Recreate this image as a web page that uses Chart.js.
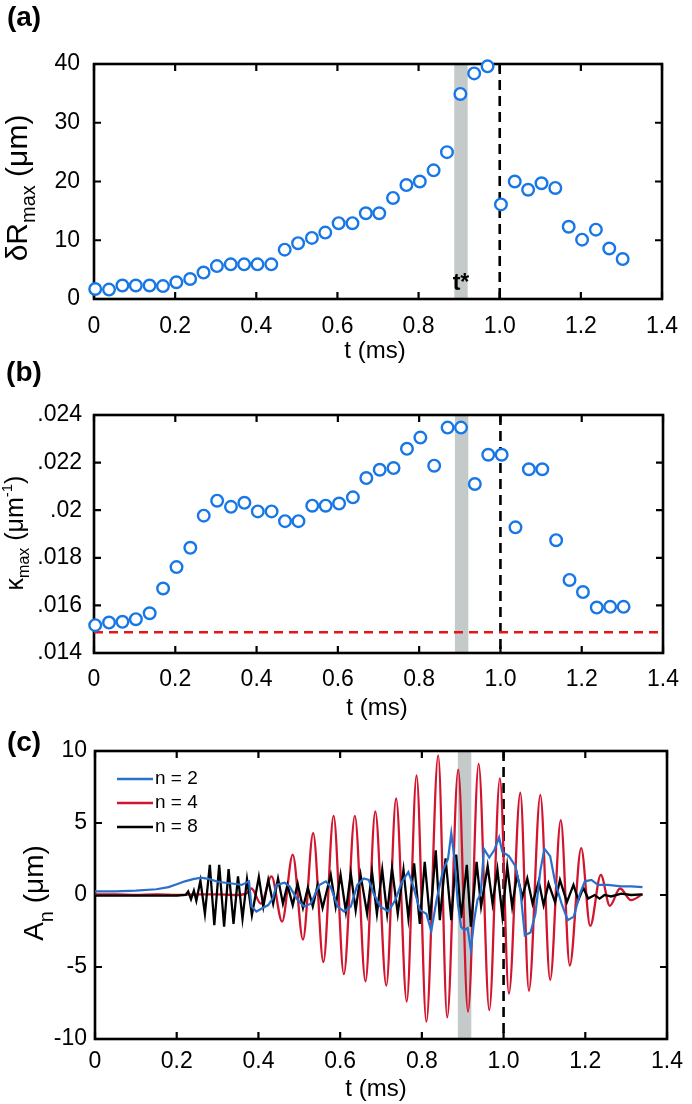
<!DOCTYPE html>
<html>
<head>
<meta charset="utf-8">
<script src="https://cdn.jsdelivr.net/npm/chart.js@4.4.0/dist/chart.umd.min.js"></script>
<style>
  html, body { margin: 0; padding: 0; background: #fff; }
  #wrap { position: relative; width: 692px; height: 1104px; }
  #wrap canvas { position: absolute; left: 0; top: 0; }
</style>
</head>
<body>
<div id="wrap">
  <canvas id="chartA" width="692" height="1104"></canvas>
  <canvas id="chartB" width="692" height="1104"></canvas>
  <canvas id="chartC" width="692" height="1104"></canvas>
</div>
<script>
// ---- data ----
const frameTimes = [0.003, 0.037, 0.070, 0.103, 0.137, 0.170, 0.203, 0.237, 0.270, 0.303,
  0.337, 0.370, 0.403, 0.437, 0.470, 0.503, 0.537, 0.570, 0.603, 0.637,
  0.670, 0.703, 0.737, 0.770, 0.803, 0.837, 0.870, 0.903, 0.937, 0.970,
  1.003, 1.037, 1.070, 1.103, 1.137, 1.170, 1.203, 1.237, 1.270, 1.303];

// (a) deltaR max (um)
const deltaR = [1.7, 1.6, 2.3, 2.3, 2.3, 2.2, 2.85, 3.4, 4.5, 5.6,
  5.9, 5.9, 5.9, 5.9, 8.4, 9.5, 10.4, 11.3, 12.9, 12.9,
  14.6, 14.6, 17.2, 19.4, 20.0, 21.9, 25.0, 34.9, 38.4, 39.6,
  16.1, 20.0, 18.6, 19.7, 18.9, 12.3, 10.1, 11.8, 8.6, 6.8];

// (b) kappa max (1/um)
const kappa = [0.01517, 0.01528, 0.01531, 0.01542, 0.01567, 0.01671, 0.01761, 0.01842, 0.01977, 0.02040,
  0.02014, 0.02031, 0.01995, 0.01995, 0.01954, 0.01954, 0.02019, 0.02019, 0.02028, 0.02054,
  0.02135, 0.02170, 0.02177, 0.02258, 0.02305, 0.02187, 0.02347, 0.02347, 0.02110, 0.02233,
  0.02233, 0.01928, 0.02172, 0.02172, 0.01874, 0.01707, 0.01656, 0.01591, 0.01594, 0.01594];
const kappaRef = 0.01487;

// (c) mode amplitudes A_n (um)
const seriesLabels = ['n = 2', 'n = 4', 'n = 8'];

const n2T = [0, 0.05, 0.1, 0.15, 0.18, 0.2, 0.22, 0.24, 0.26, 0.28,
  0.303, 0.335, 0.359, 0.377, 0.383, 0.395, 0.407, 0.424, 0.436, 0.444,
  0.464, 0.476, 0.496, 0.512, 0.528, 0.549, 0.565, 0.577, 0.594, 0.610,
  0.626, 0.642, 0.658, 0.670, 0.682, 0.698, 0.718, 0.735, 0.751, 0.767,
  0.779, 0.795, 0.811, 0.823, 0.836, 0.852, 0.864, 0.872, 0.880, 0.888,
  0.896, 0.904, 0.912, 0.920, 0.928, 0.936, 0.944, 0.952, 0.965, 0.977,
  0.989, 0.997, 1.013, 1.029, 1.041, 1.052, 1.066, 1.078, 1.090, 1.100,
  1.114, 1.126, 1.142, 1.157, 1.172, 1.187, 1.199, 1.215, 1.231, 1.255,
  1.288, 1.312, 1.340];
const n2V = [0.25, 0.25, 0.3, 0.4, 0.55, 0.75, 0.95, 1.1, 1.2, 1.1,
  0.9, 0.8, 0.7, 0.95, -0.8, -1.15, -0.95, -0.7, -0.2, 0.7,
  0.85, 0.6, -0.35, -0.8, -0.6, 0.7, 0.95, 0.55, -0.8, -1.15,
  -0.8, 0.7, 1.15, 1.05, 0.1, -0.8, -1.15, -0.35, 0.9, 1.6,
  0.6, -1.05, -1.3, -2.5, -0.35, 1.75, 2.5, 4.3, 2.5, -0.6,
  -2.2, -2.45, -2.3, -3.8, -1.75, -0.35, 0.1, 3.2, 2.6, 3.1,
  4.0, 3.0, 2.7, 2.0, 0.35, -2.8, -2.6, -1.3, 1.7, 3.2,
  2.7, 0.9, -0.6, -1.75, -1.5, 0.1, 0.95, 1.05, 0.7, 0.7,
  0.6, 0.6, 0.55];

const n4T = [0, 0.05, 0.1, 0.15, 0.2, 0.25, 0.3, 0.34, 0.37, 0.383,
  0.406, 0.432, 0.458, 0.484, 0.509, 0.534, 0.559, 0.584, 0.609, 0.636,
  0.662, 0.686, 0.713, 0.737, 0.763, 0.787, 0.811, 0.840, 0.862, 0.889,
  0.913, 0.939, 0.965, 0.991, 1.013, 1.041, 1.062, 1.090, 1.114, 1.140,
  1.162, 1.190, 1.212, 1.238, 1.260, 1.285, 1.312, 1.340];
const n4V = [0.05, 0.05, 0.0, 0.05, 0.0, 0.05, 0.05, 0.0, 0.1, 0.45,
  -0.6, 1.3, -1.85, 2.8, -3.1, 4.3, -4.65, 5.5, -5.5, 5.5,
  -6.0, 5.8, -6.3, 6.7, -7.4, 8.3, -8.8, 9.7, -8.5, 8.7,
  -8.1, 9.1, -8.0, 8.1, -6.85, 7.1, -6.65, 6.95, -5.9, 5.2,
  -4.9, 3.25, -2.15, 1.4, -0.75, 0.45, -0.35, 0.05];

const n8T = [0, 0.1, 0.2, 0.222, 0.228, 0.235, 0.242, 0.248, 0.258, 0.269,
  0.281, 0.292, 0.304, 0.316, 0.327, 0.339, 0.350, 0.361, 0.372, 0.384,
  0.401, 0.412, 0.424, 0.436, 0.448, 0.460, 0.471, 0.484, 0.496, 0.509,
  0.521, 0.533, 0.545, 0.557, 0.577, 0.589, 0.601, 0.614, 0.626, 0.638,
  0.650, 0.666, 0.678, 0.690, 0.703, 0.715, 0.727, 0.741, 0.755, 0.767,
  0.781, 0.795, 0.807, 0.820, 0.834, 0.844, 0.858, 0.872, 0.884, 0.896,
  0.910, 0.920, 0.934, 0.945, 0.961, 0.973, 0.985, 0.997, 1.009, 1.021,
  1.033, 1.046, 1.058, 1.071, 1.086, 1.098, 1.110, 1.126, 1.138, 1.155,
  1.171, 1.183, 1.195, 1.207, 1.223, 1.235, 1.247, 1.263, 1.288, 1.312,
  1.340];
const n8V = [-0.05, -0.05, -0.05, 0.0, 0.25, -0.3, 0.3, -0.4, 1.0, -1.3,
  2.1, -2.1, 2.1, -2.2, 1.8, -2.0, 1.3, -1.65, 1.1, -1.4,
  1.25, -0.8, 1.05, -0.6, 1.15, -0.6, 0.7, -0.7, 0.8, -0.9,
  0.5, -0.8, 0.7, -0.9, 1.4, -0.8, 1.4, -1.15, 1.5, -1.05,
  1.4, -1.3, 1.6, -1.3, 1.75, -1.3, 1.85, -1.3, 1.75, -1.6,
  2.2, -2.0, 2.3, -1.75, 3.1, -1.75, 2.55, -1.75, 2.8, -1.6,
  2.1, -2.2, 2.3, -0.8, 2.0, -0.6, 1.75, -1.45, 2.0, -0.8,
  1.4, -0.15, 1.15, -0.6, 0.95, -0.7, 0.8, -0.5, 1.05, -0.5,
  0.7, -0.35, 0.5, -0.25, 0.0, -0.25, 0.0, -0.1, 0.1, 0.0,
  0.05];

// ticks
const xTickValues = [0, 0.2, 0.4, 0.6, 0.8, 1.0, 1.2, 1.4];
const xTickLabels = ['0', '0.2', '0.4', '0.6', '0.8', '1.0', '1.2', '1.4'];
const yTicksA = [0, 10, 20, 30, 40];
const yLabelsA = ['0', '10', '20', '30', '40'];
const yTicksB = [0.014, 0.016, 0.018, 0.02, 0.022, 0.024];
const yLabelsB = ['.014', '.016', '.018', '.02', '.022', '.024'];
const yTicksC = [-10, -5, 0, 5, 10];
const yLabelsC = ['-10', '-5', '0', '5', '10'];

const bandRange = [0.888, 0.921];   // grey band around t*
const markTime = 1.0;               // dashed line

// ---- styling ----
const FONT = "'Liberation Sans', Arial, Helvetica, sans-serif";
const MARKER_BLUE = '#1877e6';
const LINE_BLUE = '#2a6fcb';
const LINE_RED = '#d2152e';
const BAND = '#c4caca';
const X_AXIS_H = 50;   // room under each plot for the tick labels
Chart.defaults.font.family = FONT;
Chart.defaults.color = '#000';

const pts = (xs, ys) => xs.map((x, i) => ({ x: x, y: ys[i] }));

function drawRuns(ctx, runs, x, y, rotate) {
  ctx.save();
  ctx.translate(x, y);
  if (rotate) ctx.rotate(-Math.PI / 2);
  let total = 0;
  runs.forEach(r => {
    ctx.font = (r.bold ? 'bold ' : '') + r.s + 'px ' + FONT;
    r.w = ctx.measureText(r.t).width;
    total += r.w;
  });
  let cx = -total / 2;
  ctx.fillStyle = '#000';
  ctx.textAlign = 'left';
  ctx.textBaseline = 'alphabetic';
  runs.forEach(r => {
    ctx.font = (r.bold ? 'bold ' : '') + r.s + 'px ' + FONT;
    ctx.fillText(r.t, cx, r.dy || 0);
    cx += r.w;
  });
  ctx.restore();
}

// band, dashed line, frame and inward ticks go under the marks; text on top
function makeDecor(cfg) {
  return {
    id: 'decor',
    beforeDatasetsDraw(chart) {
      const ctx = chart.ctx, a = chart.chartArea;
      const x = chart.scales.x, y = chart.scales.y;
      ctx.save();
      const b0 = x.getPixelForValue(bandRange[0]);
      const b1 = x.getPixelForValue(bandRange[1]);
      ctx.fillStyle = BAND;
      ctx.fillRect(b0, a.top, b1 - b0, a.bottom - a.top);

      const xd = x.getPixelForValue(markTime);
      ctx.strokeStyle = '#000';
      ctx.lineWidth = 2.6;
      ctx.setLineDash([10, 6]);
      ctx.beginPath();
      ctx.moveTo(xd, a.top);
      ctx.lineTo(xd, a.bottom);
      ctx.stroke();
      ctx.setLineDash([]);

      ctx.lineWidth = 2.6;
      ctx.strokeRect(a.left, a.top, a.right - a.left, a.bottom - a.top);
      ctx.lineWidth = 2.2;
      ctx.beginPath();
      xTickValues.forEach(v => {
        const px = x.getPixelForValue(v);
        ctx.moveTo(px, a.bottom); ctx.lineTo(px, a.bottom - 7);
        ctx.moveTo(px, a.top); ctx.lineTo(px, a.top + 7);
      });
      cfg.yTicks.forEach(v => {
        const py = y.getPixelForValue(v);
        ctx.moveTo(a.left, py); ctx.lineTo(a.left + 7, py);
        ctx.moveTo(a.right, py); ctx.lineTo(a.right - 7, py);
      });
      ctx.stroke();
      ctx.restore();
    },
    afterDraw(chart) {
      const ctx = chart.ctx;
      drawRuns(ctx, [{ t: cfg.label, s: 28, bold: true }], cfg.labelPos[0], cfg.labelPos[1], false);
      drawRuns(ctx, [{ t: 't (ms)', s: 24 }], cfg.xTitlePos[0], cfg.xTitlePos[1], false);
      drawRuns(ctx, cfg.yTitle, cfg.yTitlePos[0], cfg.yTitlePos[1], true);
      if (cfg.after) cfg.after(chart, ctx);
    }
  };
}

function makeScales(box, yMin, yMax, yTicks, yLabels, xPad, yPad) {
  return {
    x: {
      type: 'linear', min: 0, max: 1.4,
      grid: { display: false, drawTicks: false },
      border: { display: false },
      ticks: {
        font: { size: 23 }, color: '#000', padding: xPad,
        maxRotation: 0, autoSkip: false,
        callback: (v, i) => xTickLabels[i]
      },
      afterBuildTicks: s => { s.ticks = xTickValues.map(v => ({ value: v })); },
      afterFit: s => { s.height = X_AXIS_H; }
    },
    y: {
      type: 'linear', min: yMin, max: yMax,
      grid: { display: false, drawTicks: false },
      border: { display: false },
      ticks: {
        font: { size: 23 }, color: '#000', padding: yPad,
        autoSkip: false,
        callback: (v, i) => yLabels[i]
      },
      afterBuildTicks: s => { s.ticks = yTicks.map(v => ({ value: v })); },
      afterFit: s => { s.width = box.left; }
    }
  };
}

function baseOptions(box) {
  return {
    responsive: false,
    animation: false,
    devicePixelRatio: 1,
    events: [],
    layout: { padding: { left: 0, right: 692 - box.right, top: box.top, bottom: 1104 - box.bottom - X_AXIS_H } },
    plugins: { legend: { display: false }, tooltip: { enabled: false }, title: { display: false } }
  };
}

// ---- (a) ----
const boxA = { left: 94, right: 672, top: 64, bottom: 299 };
new Chart(document.getElementById('chartA'), {
  type: 'scatter',
  data: {
    datasets: [{
      data: pts(frameTimes, deltaR),
      pointRadius: 5.8, pointBorderWidth: 2.4,
      pointBorderColor: MARKER_BLUE, pointBackgroundColor: '#fff',
      clip: false
    }]
  },
  options: Object.assign(baseOptions(boxA), {
    scales: makeScales(boxA, 0, 40, yTicksA, yLabelsA, 14, 14)
  }),
  plugins: [makeDecor({
    label: '(a)', labelPos: [24, 26], xTitlePos: [375, 358],
    yTitle: [{ t: 'δR', s: 30 }, { t: 'max', s: 20, dy: 8 }, { t: ' (μm)', s: 30 }],
    yTitlePos: [27, 188], yTicks: yTicksA,
    after: (chart, ctx) => {
      const x = chart.scales.x;
      const cx = (x.getPixelForValue(bandRange[0]) + x.getPixelForValue(bandRange[1])) / 2;
      drawRuns(ctx, [{ t: 't*', s: 23, bold: true }], cx, 290, false);
    }
  })]
});

// ---- (b) ----
const boxB = { left: 94, right: 672, top: 415, bottom: 653 };
new Chart(document.getElementById('chartB'), {
  type: 'scatter',
  data: {
    datasets: [{
      data: pts(frameTimes, kappa),
      pointRadius: 5.8, pointBorderWidth: 2.4,
      pointBorderColor: MARKER_BLUE, pointBackgroundColor: '#fff',
      clip: false
    }, {
      type: 'line',
      data: [{ x: 0, y: kappaRef }, { x: 1.4, y: kappaRef }],
      borderColor: '#e3171b', borderWidth: 2.4, borderDash: [9, 6],
      pointRadius: 0, showLine: true
    }]
  },
  options: Object.assign(baseOptions(boxB), {
    scales: makeScales(boxB, 0.014, 0.024, yTicksB, yLabelsB, 13, 12)
  }),
  plugins: [makeDecor({
    label: '(b)', labelPos: [24, 381], xTitlePos: [377, 715],
    yTitle: [{ t: 'κ', s: 25 }, { t: 'max', s: 16, dy: 6 }, { t: ' (μm', s: 25 },
             { t: '-1', s: 15, dy: -11 }, { t: ')', s: 25 }],
    yTitlePos: [23, 533], yTicks: yTicksB
  })]
});

// ---- (c) ----
const boxC = { left: 95, right: 673, top: 751, bottom: 1039 };
const lineColors = [LINE_BLUE, LINE_RED, '#000'];
new Chart(document.getElementById('chartC'), {
  type: 'line',
  data: {
    datasets: [{
      label: seriesLabels[0], data: pts(n2T, n2V),
      borderColor: LINE_BLUE, borderWidth: 2.2, pointRadius: 0, tension: 0
    }, {
      label: seriesLabels[2], data: pts(n8T, n8V),
      borderColor: '#000', borderWidth: 2.3, pointRadius: 0, tension: 0
    }, {
      label: seriesLabels[1], data: pts(n4T, n4V),
      borderColor: LINE_RED, borderWidth: 2.3, pointRadius: 0,
      cubicInterpolationMode: 'monotone'
    }]
  },
  options: Object.assign(baseOptions(boxC), {
    scales: makeScales(boxC, -10, 10, yTicksC, yLabelsC, 9, 8)
  }),
  plugins: [makeDecor({
    label: '(c)', labelPos: [24, 751], xTitlePos: [376, 1096],
    yTitle: [{ t: 'A', s: 28 }, { t: 'n', s: 20, dy: 10 }, { t: ' (μm)', s: 28 }],
    yTitlePos: [43, 893], yTicks: yTicksC,
    after: (chart, ctx) => {
      // legend, top-left inside the axes
      const a = chart.chartArea;
      ctx.save();
      ctx.font = '19px ' + FONT;
      ctx.textBaseline = 'middle';
      ctx.textAlign = 'left';
      seriesLabels.forEach((lab, i) => {
        const yy = a.top + 28 + i * 24;
        ctx.strokeStyle = lineColors[i];
        ctx.lineWidth = 2.6;
        ctx.beginPath();
        ctx.moveTo(a.left + 22, yy);
        ctx.lineTo(a.left + 58, yy);
        ctx.stroke();
        ctx.fillStyle = '#000';
        ctx.fillText(lab, a.left + 60, yy);
      });
      ctx.restore();
    }
  })]
});
</script>
</body>
</html>
